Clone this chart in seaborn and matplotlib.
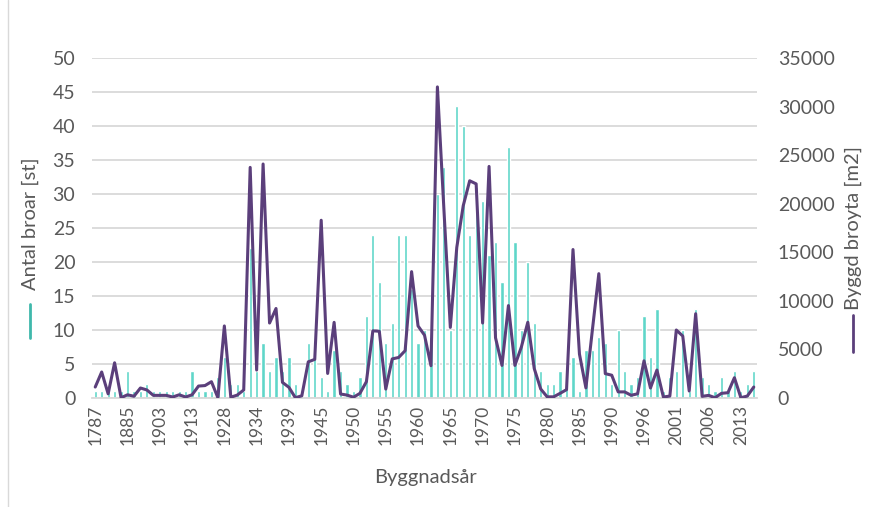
import numpy as np
import pandas as pd
import matplotlib
matplotlib.use("Agg")
import matplotlib.pyplot as plt
import seaborn as sns
from matplotlib.lines import Line2D

# Byggnadsår (category axis, every 5th label shown)
years = [
    "1787", "1850", "1860", "1870", "1880", "1885", "1890", "1895", "1898", "1900",
    "1903", "1905", "1907", "1909", "1911", "1913", "1915", "1920", "1923", "1925",
    "1928", "1929", "1930", "1931", "1933", "1934", "1935", "1936", "1937", "1938",
    "1939", "1940", "1941", "1942", "1944", "1945", "1946", "1947", "1948", "1949",
    "1950", "1951", "1952", "1953", "1954", "1955", "1956", "1957", "1958", "1959",
    "1960", "1961", "1962", "1963", "1964", "1965", "1966", "1967", "1968", "1969",
    "1970", "1971", "1972", "1973", "1974", "1975", "1976", "1977", "1978", "1979",
    "1980", "1981", "1982", "1983", "1984", "1985", "1986", "1987", "1988", "1989",
    "1990", "1991", "1992", "1993", "1995", "1996", "1997", "1998", "1999", "2000",
    "2001", "2002", "2003", "2004", "2005", "2006", "2007", "2008", "2010", "2012",
    "2013", "2014", "2015",
]

# Antal broar [st]
antal_broar = [
    1, 1, 1, 1, 1, 4, 1, 1, 2, 1,
    1, 1, 1, 1, 1, 4, 1, 1, 1, 3,
    6, 2, 2, 1, 22, 4, 8, 4, 6, 4,
    6, 2, 1, 8, 8, 3, 1, 7, 4, 2,
    1, 3, 12, 24, 17, 8, 11, 24, 24, 16,
    8, 10, 9, 30, 34, 10, 43, 40, 24, 31,
    29, 21, 23, 17, 37, 23, 10, 20, 11, 4,
    2, 2, 4, 4, 6, 1, 7, 7, 9, 8,
    2, 10, 4, 2, 3, 12, 6, 13, 1, 3,
    4, 10, 1, 13, 3, 2, 1, 3, 1, 4,
    1, 2, 4,
]

# Byggd broyta [m2]
broyta = [
    1100, 2650, 400, 3600, 0, 300, 150, 1000, 800, 240,
    240, 240, 70, 300, 70, 300, 1200, 1250, 1650, 0,
    7400, 50, 270, 800, 23750, 2850, 24100, 7700, 9200, 1580,
    1070, 0, 200, 3700, 3950, 18300, 2500, 7770, 380, 270,
    50, 450, 1650, 6900, 6850, 890, 4000, 4150, 4850, 13000,
    7400, 6450, 3300, 32050, 19500, 7250, 15500, 19800, 22370, 22050,
    7700, 23850, 6180, 3330, 9500, 3330, 5220, 7780, 3000, 900,
    90, 90, 450, 830, 15280, 4500, 1010, 6970, 12790, 2480,
    2320, 600, 600, 250, 400, 3800, 1000, 2850, 70, 170,
    6980, 6360, 690, 8660, 140, 240, 0, 450, 515, 2060,
    0, 170, 1100,
]

df = pd.DataFrame({"year": years, "antal": antal_broar, "yta": broyta})
df["pos"] = np.arange(len(df))

BAR_COLOR = "#5fd6c9"
LINE_COLOR = "#5b3f7b"
TEXT_COLOR = "#595959"
GRID_COLOR = "#d9d9d9"

sns.set_theme(style="white")
plt.rcParams["font.family"] = ["Lato", "DejaVu Sans"]

W, H = 885, 507
fig = plt.figure(figsize=(W / 100, H / 100), dpi=100)
ax = fig.add_axes([92 / W, 1 - 397.7 / H, (757 - 92) / W, (397.7 - 58.3) / H])

sns.barplot(data=df, x="year", y="antal", color=BAR_COLOR, width=0.5,
            saturation=1, ax=ax, zorder=2)
ax.set_ylim(0, 50)
ax.set_yticks(range(0, 51, 5))
ax.yaxis.grid(True, color=GRID_COLOR, linewidth=1.3, zorder=0)
ax.set_axisbelow(True)

ax2 = ax.twinx()
sns.lineplot(data=df, x="pos", y="yta", color=LINE_COLOR, linewidth=2.2,
             ax=ax2, zorder=3)
ax2.set_ylim(0, 35000)
ax2.set_yticks(range(0, 35001, 5000))
ax.set_xlim(-0.5, len(df) - 0.5)
ax2.set_xlim(-0.5, len(df) - 0.5)

for a in (ax, ax2):
    for s in a.spines.values():
        s.set_visible(False)
    a.set_xlabel("")
    a.set_ylabel("")
    a.tick_params(length=0, labelsize=14, labelcolor=TEXT_COLOR)
ax.spines["bottom"].set_visible(True)
ax.spines["bottom"].set_color(GRID_COLOR)
ax.spines["bottom"].set_linewidth(1.3)

ax.tick_params(axis="y", pad=12)
ax2.tick_params(axis="y", pad=15)
ax.set_xticks(df["pos"][::5])
ax.set_xticklabels(df["year"][::5], rotation=90, fontsize=12.5)
ax.tick_params(axis="x", pad=5)

# axis titles with legend keys (Excel style)
fig.text(30 / W, 1 - 224 / H, "Antal broar [st]", rotation=90, ha="center",
         va="center", fontsize=14.5, color=TEXT_COLOR)
fig.add_artist(Line2D([30 / W, 30 / W], [1 - 304 / H, 1 - 338 / H],
                      color="#3fb8ab", linewidth=2, transform=fig.transFigure))
fig.text(853 / W, 1 - 228 / H, "Byggd broyta [m2]", rotation=90, ha="center",
         va="center", fontsize=14.5, color=TEXT_COLOR)
fig.add_artist(Line2D([853 / W, 853 / W], [1 - 315 / H, 1 - 352 / H],
                      color=LINE_COLOR, linewidth=2, transform=fig.transFigure))
fig.text(425 / W, 1 - 478 / H, "Byggnadsår", ha="center", va="center",
         fontsize=14.5, color=TEXT_COLOR)

# chart area border
fig.add_artist(Line2D([8 / W, 8 / W], [0, 1], color=GRID_COLOR, linewidth=1,
                      transform=fig.transFigure))

fig.savefig("out.png", dpi=100)
